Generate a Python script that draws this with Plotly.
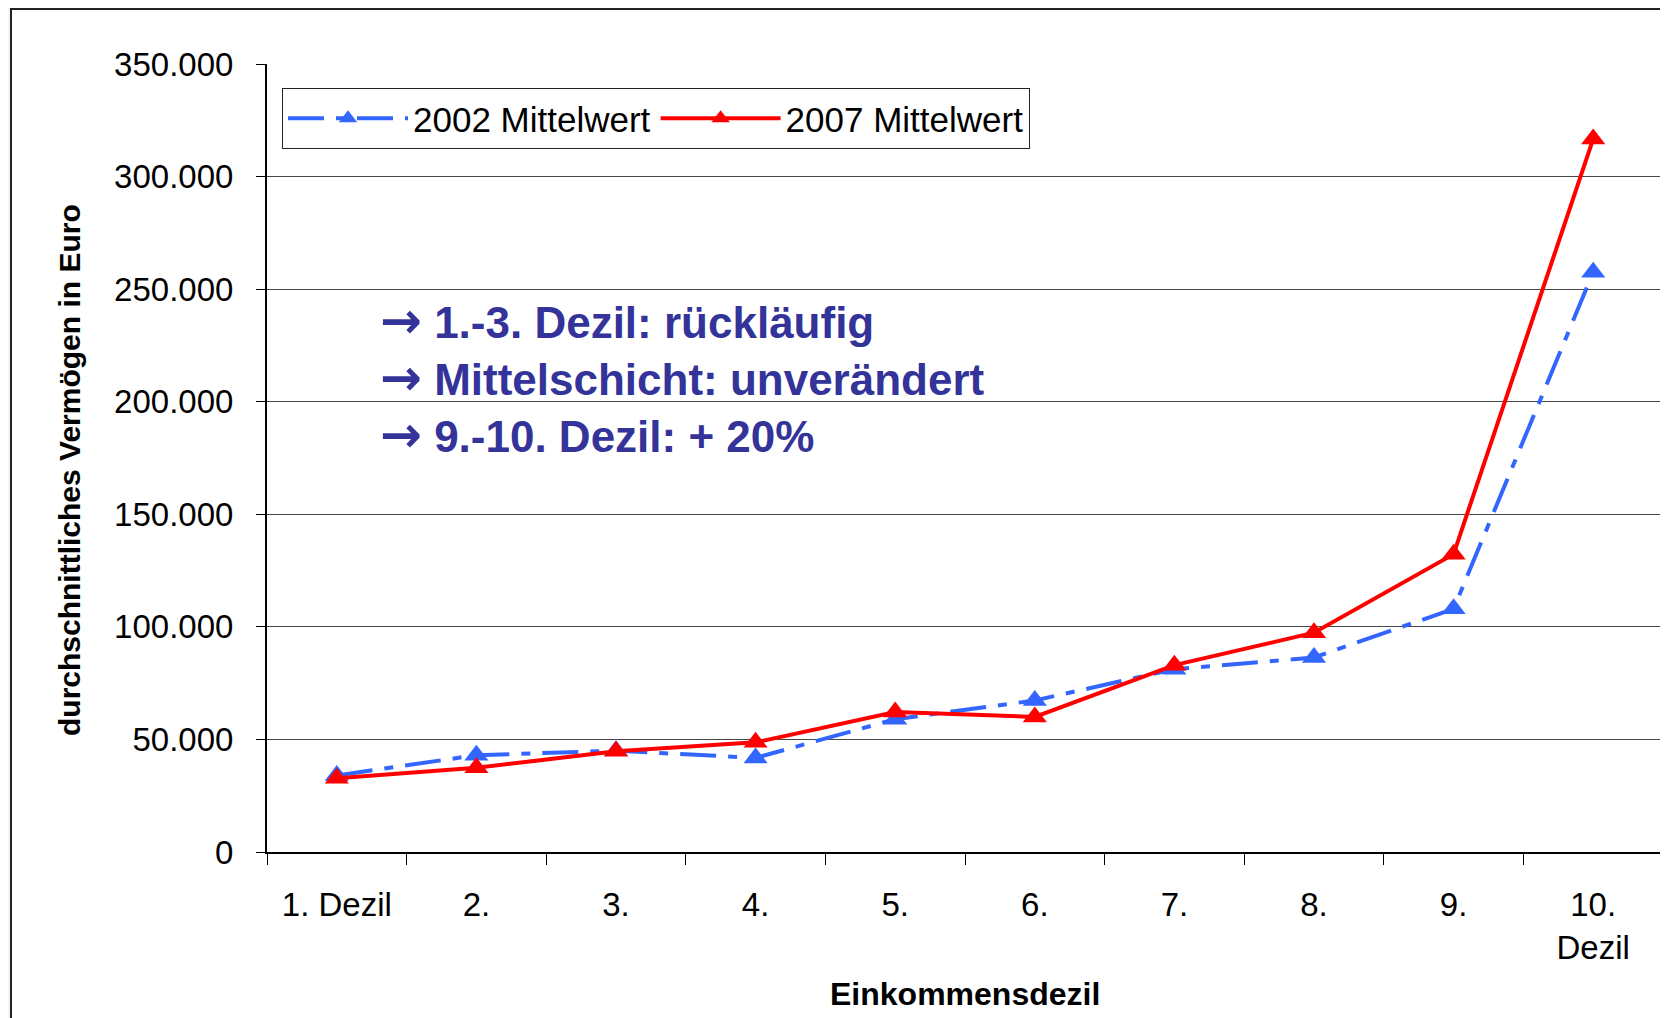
import plotly.graph_objects as go

# Einkommensdezile
dezile = ["1. Dezil", "2.", "3.", "4.", "5.", "6.", "7.", "8.", "9.", "10.<br>Dezil"]

# durchschnittliches Vermögen in Euro
mittel_2002 = [34000, 43000, 45000, 41800, 59000, 67300, 81200, 86400, 108000, 257500]
mittel_2007 = [32800, 37400, 44700, 48700, 62200, 60000, 83000, 97400, 132300, 316700]

y_ticks = [0, 50000, 100000, 150000, 200000, 250000, 300000, 350000]

# die Seite hat 8px Rand (body margin) -> Figur entsprechend kleiner
OFF = 8
W, H = 1668 - OFF, 1018 - OFF
L, R, T, B = 267, 5, 64, 166          # Zeichenfläche in Seitenpixeln
PW = W - (L - OFF) - R
PH = H - (T - OFF) - B


def px_x(p):
    return (p - L) / PW


def px_y(q):
    return (T + PH - q) / PH


FONT = "Liberation Sans, Arial, sans-serif"
ARROW = "<span style='font-family:DejaVu Sans;font-size:50px'>→</span>"

fig = go.Figure()

fig.add_trace(go.Scatter(
    x=dezile, y=mittel_2002, name="2002 Mittelwert",
    mode="lines+markers",
    line=dict(color="#3366ff", width=4, dash="36px,12px,9px,12px"),
    marker=dict(symbol="triangle-up", size=21, color="#3366ff"),
))
fig.add_trace(go.Scatter(
    x=dezile, y=mittel_2007, name="2007 Mittelwert",
    mode="lines+markers",
    line=dict(color="#ff0000", width=4),
    marker=dict(symbol="triangle-up", size=21, color="#ff0000"),
))

# äußerer Diagrammrahmen
fig.add_shape(type="rect", xref="paper", yref="paper", layer="below",
              x0=px_x(11), x1=px_x(1720), y0=px_y(1100), y1=px_y(9),
              fillcolor="white", line=dict(color="#222222", width=2))
# rechter Rand der Zeichenfläche
fig.add_shape(type="line", xref="paper", yref="paper",
              x0=1, x1=1, y0=0, y1=1, line=dict(color="#999999", width=2))

fig.add_annotation(
    text=(ARROW + " 1.-3. Dezil: rückläufig<br>"
          + ARROW + " Mittelschicht: unverändert<br>"
          + ARROW + " 9.-10. Dezil: + 20%"),
    xref="paper", yref="paper", x=px_x(378), y=px_y(378),
    xanchor="left", yanchor="middle", align="left", showarrow=False,
    font=dict(family=FONT, size=44, color="#333399", weight="bold"),
)
fig.add_annotation(
    text="durchschnittliches Vermögen in Euro", textangle=-90,
    xref="paper", yref="paper", x=px_x(70), y=px_y(470),
    xanchor="center", yanchor="middle", showarrow=False,
    font=dict(family=FONT, size=30, color="black", weight="bold"),
)
fig.add_annotation(
    text="Einkommensdezil",
    xref="paper", yref="paper", x=px_x(965), y=px_y(994),
    xanchor="center", yanchor="middle", showarrow=False,
    font=dict(family=FONT, size=32, color="black", weight="bold"),
)

fig.update_xaxes(
    type="category", range=[-0.5, 9.5],
    showline=True, linecolor="black", linewidth=2,
    ticks="outside", tickson="boundaries", ticklen=11, tickcolor="black",
    ticklabelstandoff=22, showgrid=False,
    tickfont=dict(family=FONT, size=33, color="black"),
)
fig.update_yaxes(
    range=[0, 350000], tickvals=y_ticks, tickformat=",d",
    showline=True, linecolor="black", linewidth=2,
    ticks="outside", ticklen=9, tickcolor="black", ticklabelstandoff=16,
    showgrid=True, gridcolor="#484848", gridwidth=1, zeroline=False,
    tickfont=dict(family=FONT, size=33, color="black"),
)

fig.update_layout(
    width=W, height=H,
    margin=dict(l=L - OFF, r=R, t=T - OFF, b=B, pad=0),
    paper_bgcolor="#f4f4f4", plot_bgcolor="rgba(0,0,0,0)",
    separators=",.",
    showlegend=True,
    legend=dict(
        orientation="h", x=px_x(282), y=px_y(88), xanchor="left", yanchor="top",
        bgcolor="white", bordercolor="#222222", borderwidth=1,
        font=dict(family=FONT, size=35, color="black"),
        itemwidth=120, tracegroupgap=0,
    ),
)

fig.write_html("out.html")
